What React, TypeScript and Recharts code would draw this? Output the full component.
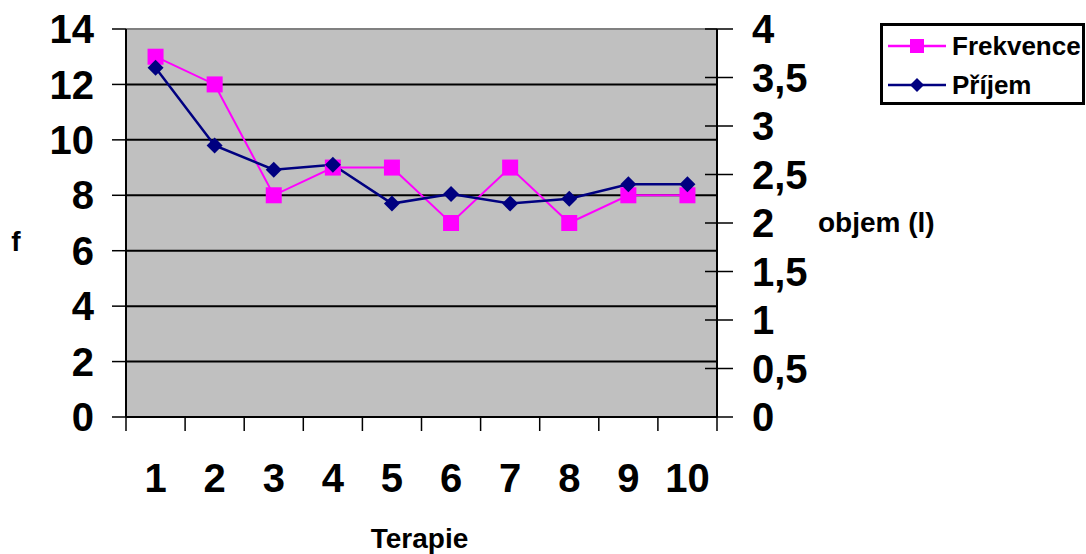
import { CartesianGrid, Legend, Line, LineChart, ReferenceLine, XAxis, YAxis } from 'recharts';

const terapie = [1, 2, 3, 4, 5, 6, 7, 8, 9, 10];
const frekvence = [13, 12, 8, 9, 9, 7, 9, 7, 8, 8];
const prijem = [3.6, 2.8, 2.55, 2.6, 2.2, 2.3, 2.2, 2.25, 2.4, 2.4];

const fTicks = [0, 2, 4, 6, 8, 10, 12, 14];
const objemTicks = [0, 0.5, 1, 1.5, 2, 2.5, 3, 3.5, 4];

const data = terapie.map((t, i) => ({ terapie: t, frekvence: frekvence[i], prijem: prijem[i] }));

// tick lines sit between categories, labels in the middle of each one
const boundaries = [...terapie.map(t => t - 0.5), terapie[terapie.length - 1] + 0.5];
const xTicks = [...boundaries, ...terapie].sort((a, b) => a - b);

const FONT = '"Liberation Sans", Arial, sans-serif';
const PINK = '#FF00FF';
const NAVY = '#000080';
const TICK_FS = 40;
const TITLE_FS = 28;

function Square({ cx, cy, size = 16, color = PINK }: any) {
  if (cx == null || cy == null) return null;
  return <rect x={cx - size / 2} y={cy - size / 2} width={size} height={size} fill={color} />;
}

function Diamond({ cx, cy, size = 8, color = NAVY }: any) {
  if (cx == null || cy == null) return null;
  return (
    <polygon
      points={`${cx},${cy - size} ${cx + size},${cy} ${cx},${cy + size} ${cx - size},${cy}`}
      fill={color}
    />
  );
}

function XTick({ x, y, payload }: any) {
  const v = payload.value;
  if (Number.isInteger(v)) {
    return (
      <text x={x} y={y + 75} textAnchor="middle" fontSize={TICK_FS} fontWeight="bold" fontFamily={FONT} fill="#000">
        {v}
      </text>
    );
  }
  return <line x1={x} x2={x} y1={y} y2={y + 14} stroke="#000" strokeWidth={1.5} />;
}

function RightTick({ x, y, payload }: any) {
  return (
    <g>
      <line x1={x - 12} x2={x + 16} y1={y} y2={y} stroke="#000" strokeWidth={1.5} />
      <text x={x + 35} y={y + 14} textAnchor="start" fontSize={TICK_FS} fontWeight="bold" fontFamily={FONT} fill="#000">
        {String(payload.value).replace('.', ',')}
      </text>
    </g>
  );
}

function LegendBox({ payload }: any) {
  return (
    <div
      style={{
        border: '3px solid #000',
        background: '#fff',
        width: 205,
        height: 82,
        boxSizing: 'border-box',
        fontFamily: FONT,
      }}
    >
      {(payload || []).map((entry: any) => (
        <div key={entry.value} style={{ display: 'flex', alignItems: 'center', height: 38, paddingTop: 1 }}>
          <svg width={64} height={20} style={{ marginLeft: 5 }}>
            <line x1={0} x2={58} y1={10} y2={10} stroke={entry.color} strokeWidth={2.5} />
            {entry.dataKey === 'frekvence' ? (
              <Square cx={29} cy={10} size={14} color={entry.color} />
            ) : (
              <Diamond cx={29} cy={10} size={7} color={entry.color} />
            )}
          </svg>
          <span style={{ fontSize: 26, fontWeight: 'bold', color: '#000' }}>{entry.value}</span>
        </div>
      ))}
    </div>
  );
}

export default function App() {
  return (
    <div style={{ position: 'absolute', left: 0, top: 0, width: 1086, height: 554, background: '#fff' }}>
      <LineChart width={1086} height={554} data={data} margin={{ top: 29, right: 0, bottom: 0, left: 0 }}>
        <CartesianGrid yAxisId="left" vertical={false} stroke="#000" strokeWidth={2} fill="#C0C0C0" />
        <XAxis
          dataKey="terapie"
          type="number"
          domain={[0.5, 10.5]}
          ticks={xTicks}
          interval={0}
          tickLine={false}
          tickSize={0}
          tickMargin={0}
          tick={<XTick />}
          height={137}
          axisLine={{ stroke: '#000', strokeWidth: 2 }}
          label={{
            content: ({ viewBox }: any) => (
              <text
                x={viewBox.x + viewBox.width / 2 - 2}
                y={viewBox.y + 131}
                textAnchor="middle"
                fontSize={TITLE_FS}
                fontWeight="bold"
                fontFamily={FONT}
                fill="#000"
              >
                Terapie
              </text>
            ),
          }}
        />
        <YAxis
          yAxisId="left"
          domain={[0, 14]}
          ticks={fTicks}
          width={126}
          tickSize={14}
          tickMargin={18}
          tick={{ fontSize: TICK_FS, fontWeight: 'bold', fontFamily: FONT, fill: '#000' }}
          tickLine={{ stroke: '#000', strokeWidth: 1.5 }}
          axisLine={{ stroke: '#000', strokeWidth: 2 }}
          label={{
            content: ({ viewBox }: any) => (
              <text
                x={viewBox.x + 16}
                y={viewBox.y + viewBox.height / 2 + 28}
                textAnchor="middle"
                fontSize={TITLE_FS}
                fontWeight="bold"
                fontFamily={FONT}
                fill="#000"
              >
                f
              </text>
            ),
          }}
        />
        <YAxis
          yAxisId="right"
          orientation="right"
          domain={[0, 4]}
          ticks={objemTicks}
          width={369}
          tickSize={0}
          tickMargin={0}
          tickLine={false}
          tick={<RightTick />}
          axisLine={{ stroke: '#000', strokeWidth: 2 }}
          label={{
            content: ({ viewBox }: any) => (
              <text
                x={viewBox.x + 101}
                y={viewBox.y + viewBox.height / 2 + 9}
                textAnchor="start"
                fontSize={TITLE_FS}
                fontWeight="bold"
                fontFamily={FONT}
                fill="#000"
              >
                objem (l)
              </text>
            ),
          }}
        />
        <ReferenceLine yAxisId="left" y={14} stroke="#808080" strokeWidth={2} />
        <Legend
          layout="horizontal"
          verticalAlign="middle"
          align="center"
          content={<LegendBox />}
          wrapperStyle={{ left: 880, top: 23, width: 206, height: 82 }}
        />
        <Line
          yAxisId="left"
          dataKey="frekvence"
          name="Frekvence"
          type="linear"
          stroke={PINK}
          strokeWidth={2}
          dot={<Square />}
          activeDot={false}
          isAnimationActive={false}
        />
        <Line
          yAxisId="right"
          dataKey="prijem"
          name="Příjem"
          type="linear"
          stroke={NAVY}
          strokeWidth={2.5}
          dot={<Diamond />}
          activeDot={false}
          isAnimationActive={false}
        />
      </LineChart>
    </div>
  );
}
